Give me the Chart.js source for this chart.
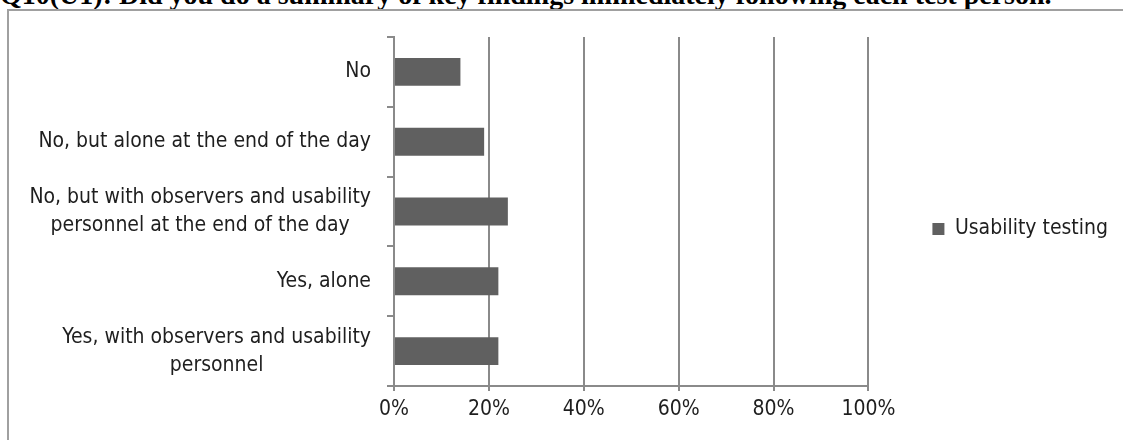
<!DOCTYPE html>
<html>
<head>
<meta charset="utf-8">
<script src="https://cdn.jsdelivr.net/npm/chart.js@4"></script>
<style>
  html, body { margin: 0; padding: 0; background: #fff; overflow: hidden; }
  #wrap { position: relative; width: 1123px; height: 440px; }
  #title {
    position: absolute; left: 0; top: -21px; white-space: nowrap; line-height: 28px;
    font: bold 28px "Liberation Serif", "Times New Roman", serif; color: #000;
  }
  #frame {
    position: absolute; left: 7px; top: 9px; width: 1130px; height: 450px;
    border: 2px solid #a0a0a0; box-sizing: border-box;
  }
  #chart { position: absolute; left: 0; top: 0; }
</style>
</head>
<body>
<div id="wrap">
  <div id="title">Q10(U1): Did you do a summary of key findings immediately following each test person.</div>
  <div id="frame"></div>
  <canvas id="chart" width="1123" height="440"></canvas>
</div>
<script>
// answers, top to bottom
var answers = [
    "No",
    "No, but alone at the end of the day",
    ["No, but with observers and usability", "personnel at the end of the day"],
    "Yes, alone",
    ["Yes, with observers and usability", "personnel"]
];
var usability_testing = [14, 19, 24, 22, 22];
var percent_ticks = [0, 20, 40, 60, 80, 100];

var font_family = "'Liberation Sans Narrow', 'DejaVu Sans Condensed', sans-serif";
var label_font = { family: font_family, size: 21, lineHeight: 1.3 };
var text_color = "#1e1e1e";
var line_color = "#8a8a8a";

var y_tick_length = 7;
var y_tick_padding = 16;

// category labels: the block sits right-aligned against the axis,
// lines of a wrapped label are centred on each other
const answer_labels = {
    id: 'answer_labels',
    afterDraw: function(chart) {
        var ctx = chart.ctx;
        var scale = chart.scales.y;
        var line_height = 28;
        ctx.save();
        ctx.font = label_font.size + "px " + font_family;
        ctx.fillStyle = text_color;
        ctx.textAlign = 'center';
        ctx.textBaseline = 'middle';
        for (var i = 0; i < answers.length; i++) {
            var lines = [].concat(answers[i]);
            var widest = 0;
            for (var j = 0; j < lines.length; j++) {
                widest = Math.max(widest, ctx.measureText(lines[j]).width);
            }
            var cx = scale.right - y_tick_length - y_tick_padding - widest / 2;
            var cy = scale.getPixelForValue(i);
            for (var j = 0; j < lines.length; j++) {
                ctx.fillText(lines[j], cx, cy + (j - (lines.length - 1) / 2) * line_height);
            }
        }
        ctx.restore();
    }
};

var canvas = document.getElementById('chart').getContext('2d');

const chart = new Chart(canvas, {
    type: 'bar',
    data: {
        labels: answers,
        datasets: [{
            label: "Usability testing",
            data: usability_testing,
            backgroundColor: "#606060",
            borderWidth: 0,
            barPercentage: 0.4,
            categoryPercentage: 1.0,
        }],
    },
    options: {
        indexAxis: 'y',
        responsive: false,
        animation: false,
        layout: {
            padding: { left: 0, top: 37, right: 5, bottom: 19 },
        },
        plugins: {
            tooltip: { enabled: false },
            legend: {
                position: 'right',
                labels: {
                    boxWidth: 12,
                    boxHeight: 12,
                    padding: 64,
                    color: text_color,
                    font: label_font,
                },
            },
        },
        scales: {
            x: {
                min: 0,
                max: 100,
                afterBuildTicks: function(scale) {
                    scale.ticks = percent_ticks.map(function(v) { return { value: v }; });
                },
                afterFit: function(scale) { scale.height = 35; },
                ticks: {
                    color: text_color,
                    font: label_font,
                    padding: 5,
                    callback: function(v) { return v + "%"; },
                },
                grid: {
                    color: line_color,
                    lineWidth: 2,
                    tickLength: 5,
                },
                border: { color: line_color, width: 2 },
            },
            y: {
                afterFit: function(scale) { scale.width = 394; },
                ticks: { display: false },
                grid: {
                    drawOnChartArea: false,
                    color: line_color,
                    lineWidth: 2,
                    tickLength: y_tick_length,
                },
                border: { color: line_color, width: 2 },
            },
        },
    },
    plugins: [answer_labels],
});
</script>
</body>
</html>
